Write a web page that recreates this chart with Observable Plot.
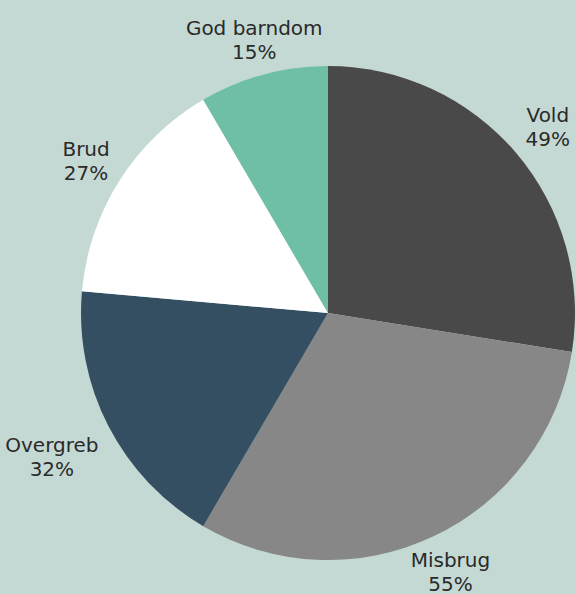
<!DOCTYPE html>
<html><head><meta charset="utf-8">
<script src="https://cdn.jsdelivr.net/npm/d3@7"></script>
<script src="https://cdn.jsdelivr.net/npm/@observablehq/plot@0.6"></script>
<style>
html,body{margin:0;padding:0;background:#c5d9d4;}
#chart svg{display:block;overflow:visible;}
</style></head><body><div id="chart"></div>
<script>
const categories = ["Vold","Misbrug","Overgreb","Brud","God barndom"];
const values = [49,55,32,27,15];
const colors = ["#494949","#878787","#344f61","#ffffff","#6fbfa6"];

const W = 576, H = 594;
const margins = {left: 81, right: 1, top: 66, bottom: 34};
const R = (W - margins.left - margins.right) / 2;
const fontSize = 20, fontFamily = "DejaVu Sans", lineH = 24, gap = 12;

const rows = categories.map((c, i) => ({category: c, value: values[i], color: colors[i]}));
const arcs = d3.pie().sort(null).value(d => d.value)(rows);

const ctx = document.createElement("canvas").getContext("2d");
ctx.font = `${fontSize}px "${fontFamily}"`;
const labels = arcs.map(p => {
  const a = (p.startAngle + p.endAngle) / 2;
  const dx = Math.sin(a), dy = Math.cos(a);
  const l1 = p.data.category, l2 = p.data.value + "%";
  const hw = Math.max(ctx.measureText(l1).width, ctx.measureText(l2).width) / 2;
  const hh = lineH;
  const t = Math.min(Math.abs(dx) > 1e-6 ? hw / Math.abs(dx) : Infinity,
                     Math.abs(dy) > 1e-6 ? hh / Math.abs(dy) : Infinity);
  const dist = (R + gap + t) / R;
  return {x: dist * dx, y: dist * dy, text: l1 + "\n" + l2};
});

function pieMark(index, scales, vals, dims) {
  let cx, cy, r;
  if (scales && scales.x && scales.y) {
    cx = scales.x(0); cy = scales.y(0); r = scales.x(1) - scales.x(0);
  } else {
    cx = dims.marginLeft + (dims.width - dims.marginLeft - dims.marginRight) / 2;
    cy = dims.marginTop + (dims.height - dims.marginTop - dims.marginBottom) / 2;
    r = (dims.width - dims.marginLeft - dims.marginRight) / 2;
  }
  const arc = d3.arc().innerRadius(0).outerRadius(r);
  const g = d3.create("svg:g").attr("transform", `translate(${cx},${cy})`);
  g.selectAll("path").data(arcs).join("path")
    .attr("d", arc).attr("fill", d => d.data.color);
  return g.node();
}

const chart = Plot.plot({
  width: W, height: H,
  marginLeft: margins.left, marginRight: margins.right,
  marginTop: margins.top, marginBottom: margins.bottom,
  style: {background: "#c5d9d4", overflow: "visible"},
  x: {axis: null, domain: [-1, 1]},
  y: {axis: null, domain: [-1, 1]},
  marks: [
    pieMark,
    Plot.text(labels, {x: "x", y: "y", text: "text", fontSize, fontFamily,
      fill: "#2a2a2a", lineHeight: lineH / fontSize, lineAnchor: "middle", textAnchor: "middle"})
  ]
});
document.getElementById("chart").appendChild(chart);
</script></body></html>
